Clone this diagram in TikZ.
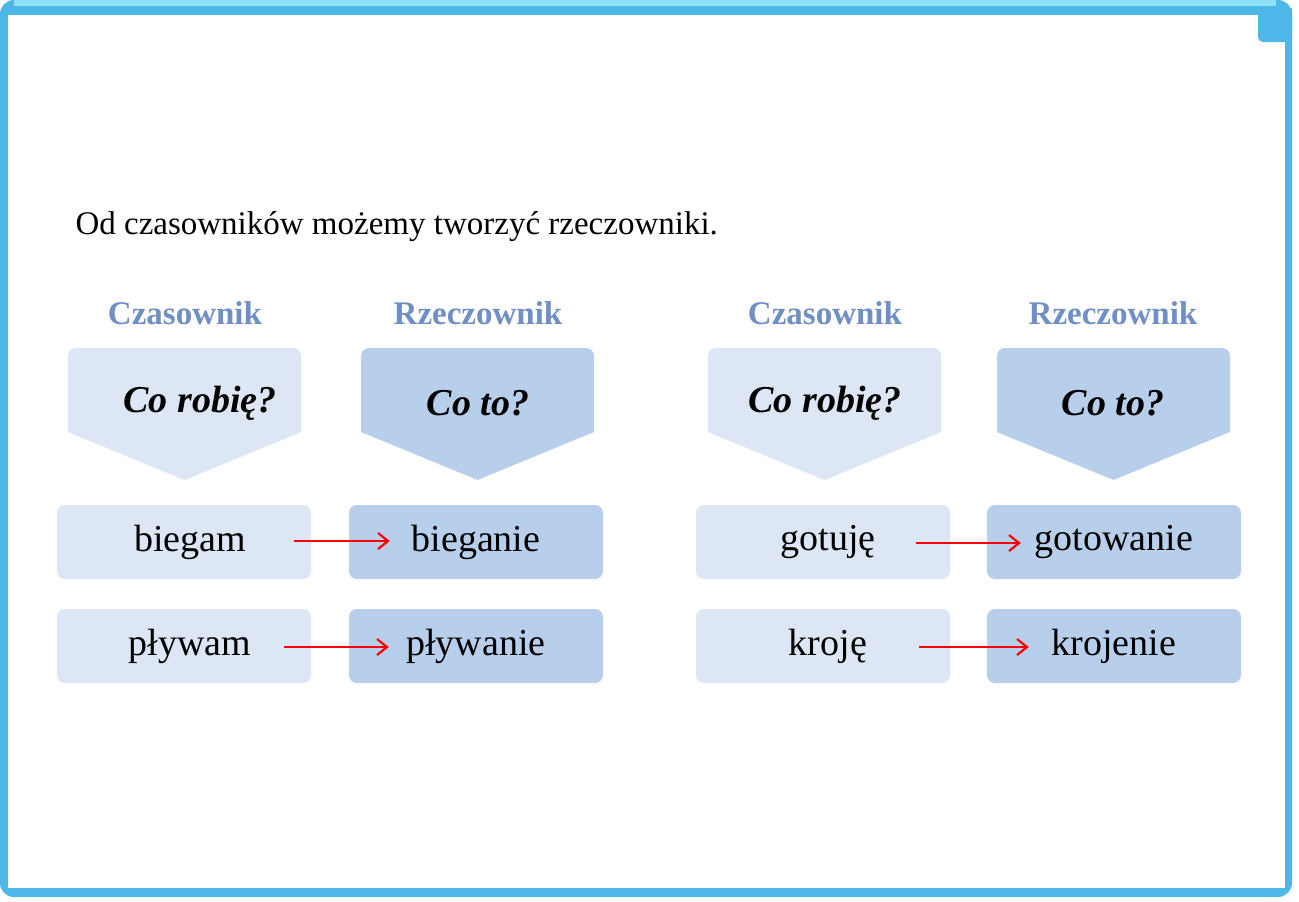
\documentclass[tikz,border=0pt]{standalone}
\usepackage{fontspec}
\setmainfont{Liberation Serif}
\usetikzlibrary{positioning,calc,arrows.meta}
\definecolor{frameblue}{HTML}{4DB8E8}
\definecolor{framelight}{HTML}{8EE0F5}
\definecolor{verbfill}{HTML}{DCE6F4}
\definecolor{nounfill}{HTML}{B8CFEC}
\definecolor{headblue}{HTML}{6F8FC6}
\tikzset{
  wordbox/.style={rounded corners=8pt,minimum width=254pt,minimum height=74pt,inner sep=0pt,font=\fontsize{38}{44}\selectfont},
  verbbox/.style={wordbox,fill=verbfill},
  nounbox/.style={wordbox,fill=nounfill},
  heading/.style={text=headblue,font=\fontsize{33}{38}\selectfont\bfseries},
  question/.style={font=\fontsize{38}{44}\selectfont\bfseries\itshape},
  turn/.style={red,line width=2.2pt,-{Straight Barb[length=10pt,width=16pt,line width=2.2pt]}}
}
\newcommand{\pent}[3]{% left x, width, fill
  \fill[#3] (#1,432) [rounded corners=8pt] -- (#1,348) -- ({#1+#2},348) [sharp corners] -- ({#1+#2},432) -- ({#1+#2/2},480) -- cycle;}
\begin{document}
\begin{tikzpicture}[x=1pt,y=-1pt]
    \useasboundingbox (0,0) rectangle (1299,902);
    % frame
    \fill[frameblue,rounded corners=14pt] (0,0) rectangle (1292,897);
    \fill[framelight] (14,0) -- (1276,0) -- (1276,6) -- (14,6) -- cycle;
    \fill[white] (8,15) rectangle (1285,888);
    \fill[frameblue,rounded corners=5pt] (1258,8) rectangle (1292,42);
    \fill[frameblue] (1258,8) rectangle (1292,25);
    \fill[frameblue] (1275,8) rectangle (1292,42);

    \node[anchor=west,font=\fontsize{33}{38}\selectfont] (title) at (72,227) {Od czasowników możemy tworzyć rzeczowniki.};

    % question shapes
    \pent{68}{233}{verbfill}
    \pent{361}{233}{nounfill}
    \pent{708}{233}{verbfill}
    \pent{997}{233}{nounfill}
    \node[heading] (h1) at (185,313) {Czasownik};
    \node[heading] (h2) at (478,313) {Rzeczownik};
    \node[heading] (h3) at (825,313) {Czasownik};
    \node[heading] (h4) at (1113,313) {Rzeczownik};
    \node[question] (q1) at (200,403) {Co robię?};
    \node[question] (q2) at (478,403) {Co to?};
    \node[question] (q3) at (825,403) {Co robię?};
    \node[question] (q4) at (1113,403) {Co to?};

    % word boxes
    \node[verbbox] (v1) at (184,542) {\hspace*{12pt}biegam};
    \node[nounbox] (n1) at (476,542) {bieganie};
    \node[verbbox] (v2) at (184,646) {\hspace*{12pt}pływam};
    \node[nounbox] (n2) at (476,646) {pływanie};
    \node[verbbox] (v3) at (823,542) {\hspace*{10pt}gotuję};
    \node[nounbox] (n3) at (1114,542) {gotowanie};
    \node[verbbox] (v4) at (823,646) {\hspace*{10pt}kroję};
    \node[nounbox] (n4) at (1114,646) {krojenie};

    \draw[turn] ($(v1.east)+(-17,-1)$) -- ($(n1.west)+(41,-1)$);
    \draw[turn] ($(v2.east)+(-27,1)$) -- ($(n2.west)+(40,1)$);
    \draw[turn] ($(v3.east)+(-34,1)$) -- ($(n3.west)+(34,1)$);
    \draw[turn] ($(v4.east)+(-31,1)$) -- ($(n4.west)+(42,1)$);
\end{tikzpicture}
\end{document}
